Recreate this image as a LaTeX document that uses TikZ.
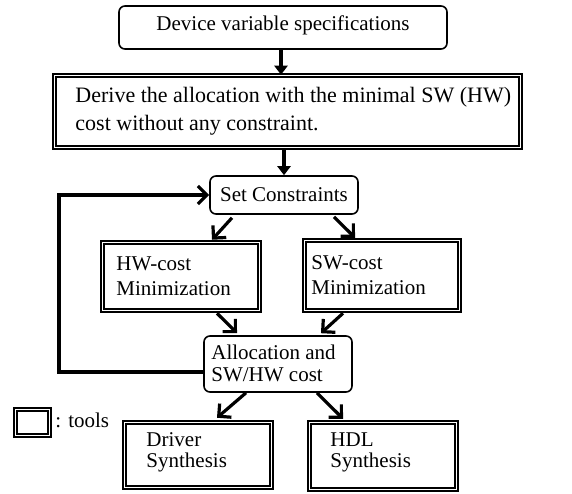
\documentclass[tikz,border=0pt]{standalone}
\usepackage{fontspec}
\setmainfont{Liberation Serif}
\usetikzlibrary{arrows.meta, positioning, calc}

\begin{document}
\begin{tikzpicture}[
    x=1pt, y=-1pt,
    rbox/.style={draw, rounded corners=6pt, line width=1.6pt, inner sep=0pt},
    tool/.style={draw, double, double distance=1.8pt, line width=1.5pt, inner sep=0pt},
    txt/.style={font=\fontsize{21}{25}\selectfont, inner sep=0pt, align=left},
    flow/.style={line width=3.2pt, -{Triangle[length=9pt,width=13pt]}},
    open/.style={line width=3.2pt, -{Straight Barb[length=9pt,width=18pt]}}
]
\useasboundingbox (0,0) rectangle (572,494);

% Specifications
\node[rbox, minimum width=328pt, minimum height=43pt] (spec) at (283,27.5) {};
\node[txt] at ([yshift=2pt]spec.center) {Device variable specifications};

% Initial allocation
\node[tool, minimum width=466pt, minimum height=72pt] (derive) at (287.5,111.5) {};
\node[txt, anchor=west, font=\fontsize{22}{28}\selectfont] at ($(derive.west)+(21.5,0)$) {Derive the allocation with the minimal SW (HW)\\cost without any constraint.};

% Constraints
\node[rbox, minimum width=148pt, minimum height=38pt] (setc) at (284,195) {};
\node[txt] at (setc.center) {Set Constraints};

% Minimization tools
\node[tool, minimum width=157pt, minimum height=68pt] (hw) at (181,276.5) {};
\node[txt, anchor=west] at ($(hw.west)+(14.5,0)$) {HW-cost\\Minimization};

\node[tool, minimum width=155pt, minimum height=70pt] (sw) at (382,275.5) {};
\node[txt, anchor=west] at ($(sw.west)+(7.5,0)$) {SW-cost\\Minimization};

% Result
\node[rbox, minimum width=148pt, minimum height=56pt] (alloc) at (278,364) {};
\node[txt, anchor=west, font=\fontsize{21}{22}\selectfont] at ($(alloc.west)+(8,-1)$) {Allocation and\\SW/HW cost};

% Synthesis tools
\node[tool, minimum width=147pt, minimum height=65pt] (drv) at (198,455) {};
\node[txt, anchor=west, font=\fontsize{21}{21}\selectfont] at ($(drv.west)+(22.5,-3)$) {Driver\\Synthesis};

\node[tool, minimum width=147pt, minimum height=67pt] (hdl) at (383,456) {};
\node[txt, anchor=west, font=\fontsize{21}{21}\selectfont] at ($(hdl.west)+(21.5,-4)$) {HDL\\Synthesis};

% Legend
\node[tool, minimum width=34pt, minimum height=26pt] (key) at (32.5,422.5) {};
\node[txt, anchor=west] (keytxt) at ($(key.east)+(5,-2)$) {:\hspace{7pt}tools};

% Connectors
\draw[flow] ([xshift=-2pt]spec.south) -- ([xshift=-2pt]spec.south |- derive.north);
\draw[flow] (setc.north |- derive.south) -- (setc.north);
\draw[open] ($(setc.south)+(-52,3)$) -- ($(hw.north)+(31,-2)$);
\draw[open] ($(setc.south)+(50,2)$) -- ($(sw.north)+(-27,-2)$);
\draw[open] ($(hw.south)+(36,2)$) -- ($(alloc.north)+(-41,-2)$);
\draw[open] ($(sw.south)+(-39,2)$) -- ($(alloc.north)+(43,-2)$);
\draw[open] ($(alloc.south)+(-32,0)$) -- ($(drv.north)+(19,-4)$);
\draw[open] ($(alloc.south)+(39,0)$) -- ($(hdl.north)+(-40,-3)$);

% Feedback loop
\coordinate (loop) at (59,283);
\draw[open] ($(alloc.west)+(0,8)$) -| (loop) |- (setc.west);

\end{tikzpicture}
\end{document}
